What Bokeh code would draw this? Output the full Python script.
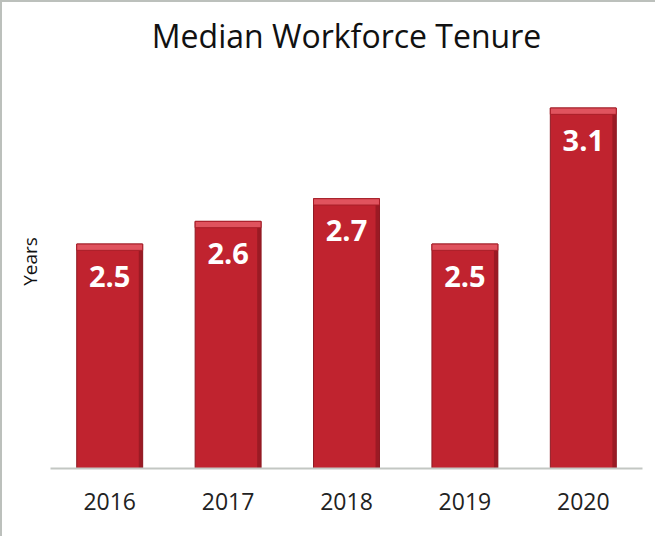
from bokeh.plotting import figure
from bokeh.models import ColumnDataSource, FixedTicker
from bokeh.transform import dodge
from bokeh.core.properties import value
from bokeh.embed import file_html
from bokeh.resources import INLINE

years = ["2016", "2017", "2018", "2019", "2020"]
tenure = [2.5, 2.6, 2.7, 2.5, 3.1]
labels = ["2.5", "2.6", "2.7", "2.5", "3.1"]

y_start = 1.51
y_end = 3.336

src = ColumnDataSource(dict(
    x=years,
    top=tenure,
    lab=labels,
    hl_bottom=[t - 0.028 for t in tenure],
))

p = figure(
    x_range=years, y_range=(y_start, y_end),
    width=655, height=536,
    output_backend="svg", toolbar_location=None,
    min_border_left=48, min_border_right=15,
    min_border_top=52, min_border_bottom=70,
    title="Median Workforce Tenure",
)
p.styles = {"border-top": "2px solid #bcc0bc", "border-left": "2px solid #bcc0bc"}
p.x_range.range_padding = 0
p.outline_line_color = None
p.xgrid.grid_line_color = None
p.ygrid.grid_line_color = None
p.background_fill_color = "white"
p.border_fill_color = "white"

p.title.align = "center"
p.title.text_font = "Open Sans"
p.title.text_font_style = "normal"
p.title.text_font_size = "32px"
p.title.text_color = "#111111"
p.title.standoff = -4

# main bars
p.vbar(x="x", top="top", bottom=y_start, width=0.557, source=src,
       fill_color="#c0232f", line_color="#8e1a23", line_width=1)
# dark right edge
p.vbar(x=dodge("x", 0.262, range=p.x_range), top="hl_bottom", bottom=y_start,
       width=0.033, source=src, fill_color="#8f1821", line_color=None, fill_alpha=0.75)
# top highlight
p.vbar(x="x", top="top", bottom="hl_bottom", width=0.557, source=src,
       fill_color="#e0535e", line_color="#a81e28", line_width=1)

p.text(x="x", y="top", text="lab", source=src, y_offset=32,
       text_align="center", text_baseline="middle",
       text_font=value("Open Sans"), text_font_style="bold",
       text_font_size="29px", text_color="white")

p.xaxis.axis_line_color = "#c3c7c3"
p.xaxis.axis_line_width = 2
p.xaxis.major_tick_line_color = None
p.xaxis.minor_tick_line_color = None
p.xaxis.major_label_text_font = "Open Sans"
p.xaxis.major_label_text_font_size = "23px"
p.xaxis.major_label_text_color = "#222222"
p.xaxis.major_label_standoff = 18

p.yaxis.ticker = FixedTicker(ticks=[])
p.yaxis.axis_line_color = None
p.yaxis.major_tick_line_color = None
p.yaxis.minor_tick_line_color = None
p.yaxis.axis_label = "Years"
p.yaxis.axis_label_text_font = "Open Sans"
p.yaxis.axis_label_text_font_style = "normal"
p.yaxis.axis_label_text_font_size = "19px"
p.yaxis.axis_label_text_color = "#111111"
p.yaxis.axis_label_standoff = 8

open("out.html", "w").write(file_html(p, INLINE))
